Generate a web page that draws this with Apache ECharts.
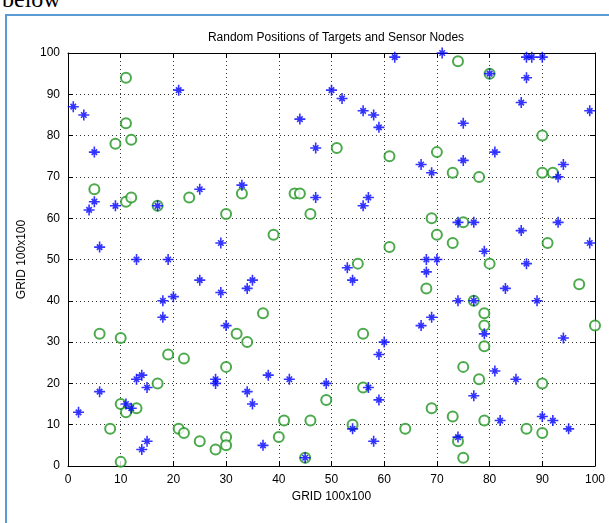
<!DOCTYPE html>
<html>
<head>
<meta charset="utf-8">
<script src="https://cdn.jsdelivr.net/npm/echarts@6/dist/echarts.min.js"></script>
<style>
  html, body { margin: 0; padding: 0; background: #fff; }
  #wrap { position: relative; width: 609px; height: 523px; overflow: hidden; }
  #box { position: absolute; left: 5px; top: 14px; width: 700px; height: 600px;
         border-left: 2px solid #5b9bd5; border-top: 2px solid #5b9bd5; }
  #below { position: absolute; left: 2px; top: -14px; font: 24px "Liberation Serif", serif; color: #000; }
  #chart { position: absolute; left: 0; top: 0; width: 609px; height: 523px; }
</style>
</head>
<body>
<div id="wrap">
  <div id="below">below</div>
  <div id="box"></div>
  <div id="chart"></div>
</div>
<script>
// targets (blue asterisks)
const targets = [
  [1,87],[3,85],[5,76],[21,91],[25,67],[62,99],[50,91],[52,89],[56,86],[58,85],[59,82],
  [44,84],[47,77],[67,73],[33,68],[71,100],[80,95],[87,99],[88,99],[90,99],[87,94],[86,88],
  [99,86],[75,83],[81,76],[75,74],[69,71],[94,73],[93,70],[5,64],[4,62],[9,63],[17,63],
  [6,53],[13,50],[19,50],[29,54],[25,45],[20,41],[18,40],[29,42],[18,36],[30,34],[47,65],
  [57,65],[56,63],[53,48],[54,45],[35,45],[34,43],[74,59],[77,59],[86,57],[93,59],[99,54],
  [79,52],[68,50],[70,50],[87,49],[68,47],[83,43],[74,40],[77,40],[89,40],[69,36],[67,34],
  [28,21],[28,20],[14,22],[13,21],[15,19],[6,18],[11,15],[12,14],[2,13],[15,6],[14,4],
  [60,30],[59,27],[38,22],[42,21],[49,20],[57,19],[59,16],[34,18],[35,15],[54,9],[37,5],
  [58,6],[45,2],[79,32],[94,31],[81,23],[85,21],[77,17],[82,11],[90,12],[92,11],[95,9],[74,7]
];
// sensor nodes (green circles)
const sensors = [
  [11,94],[11,83],[12,79],[9,78],[5,67],[51,77],[61,75],[33,66],[74,98],[80,95],[90,80],
  [70,76],[73,71],[78,70],[90,71],[92,71],[11,64],[12,65],[17,63],[23,65],[30,61],[43,66],
  [44,66],[46,61],[39,56],[61,53],[55,49],[37,37],[69,60],[75,59],[70,56],[73,54],[91,54],
  [80,49],[68,43],[97,44],[77,40],[79,37],[79,34],[100,34],[6,32],[10,31],[32,32],[19,27],
  [22,26],[30,24],[17,20],[10,15],[11,13],[13,14],[8,9],[21,9],[22,8],[25,6],[28,4],[30,7],
  [30,5],[10,1],[34,30],[56,32],[56,19],[49,16],[41,11],[46,11],[54,10],[64,9],[40,7],[45,2],
  [79,29],[75,24],[78,21],[90,20],[69,14],[73,12],[79,11],[87,9],[90,8],[74,6],[75,2]
];
const axisMin = 0, axisMax = 100, axisStep = 10;

const font = '"Liberation Sans", Arial, sans-serif';
// matlab-ish '*' marker: long + with shorter diagonals
const star = 'path://M0,-5L0,5M-5,0L5,0M-2.5,-2.5L2.5,2.5M-2.5,2.5L2.5,-2.5';

function mkAxis(pos, showLabel, name) {
  return {
    type: 'value', position: pos, min: axisMin, max: axisMax, interval: axisStep,
    name: name, nameLocation: 'middle',
    nameGap: pos === 'left' ? 40 : 25,
    nameTextStyle: { fontFamily: font, fontSize: 12, color: '#000' },
    axisLine: { show: true, onZero: false, lineStyle: { color: '#000', width: 1 } },
    axisTick: { show: true, inside: true, length: 5, lineStyle: { color: '#000' } },
    axisLabel: { show: showLabel, fontFamily: font, fontSize: 12, color: '#000', margin: 8 },
    splitLine: { show: showLabel, lineStyle: { color: '#333', type: [1, 3], width: 1 } }
  };
}

const chart = echarts.init(document.getElementById('chart'), null, { renderer: 'canvas' });
chart.setOption({
  backgroundColor: 'transparent',
  animation: false,
  title: {
    text: 'Random Positions of Targets and Sensor Nodes',
    left: 331, top: 27, textAlign: 'center',
    textStyle: { fontFamily: font, fontSize: 12, fontWeight: 'normal', color: '#000' }
  },
  grid: { left: 68, top: 53, right: 14, bottom: 57 },
  xAxis: [mkAxis('bottom', true, 'GRID 100x100'), mkAxis('top', false, '')],
  yAxis: [mkAxis('left', true, 'GRID 100x100'), mkAxis('right', false, '')],
  series: [
    {
      type: 'scatter', data: sensors, symbol: 'emptyCircle', symbolSize: 10, clip: false,
      itemStyle: { color: '#1f951f', borderColor: '#1f951f', borderWidth: 1.2 }
    },
    {
      type: 'scatter', data: targets, symbol: star, symbolSize: 11, clip: false,
      itemStyle: { color: 'none', borderColor: '#0000ff', borderWidth: 1.6 }
    }
  ]
});
</script>
</body>
</html>
